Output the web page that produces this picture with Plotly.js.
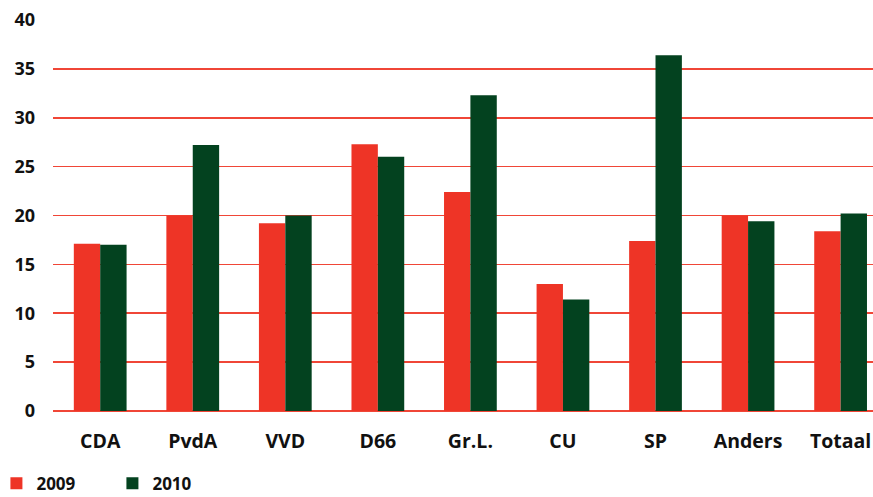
<!DOCTYPE html>
<html>
<head>
<meta charset="utf-8">
<script src="https://cdn.plot.ly/plotly-3.0.1.min.js"></script>
<style>html,body{margin:0;padding:0;background:#fff;}#chart{width:873px;height:497px;}</style>
</head>
<body>
<div id="chart"></div>
<script>
const categories = ["CDA", "PvdA", "VVD", "D66", "Gr.L.", "CU", "SP", "Anders", "Totaal"];
const values2009 = [17.1, 20.0, 19.2, 27.3, 22.4, 13.0, 17.4, 20.0, 18.4];
const values2010 = [17.0, 27.2, 20.0, 26.0, 32.3, 11.4, 36.4, 19.4, 20.2];
const seriesNames = ["2009", "2010"];
const yTicks = [0, 5, 10, 15, 20, 25, 30, 35, 40];

const red = "#ee3426";
const green = "#03421f";
const fontFam = "'Open Sans', 'DejaVu Sans', sans-serif";

const data = [
  {type: "bar", name: seriesNames[0], x: categories, y: values2009,
   marker: {color: red, line: {width: 0}}},
  {type: "bar", name: seriesNames[1], x: categories, y: values2010,
   marker: {color: green, line: {width: 0}}}
];

const layout = {
  width: 873, height: 497,
  margin: {l: 53, r: 0, t: 20, b: 86, autoexpand: false},
  paper_bgcolor: "#fff", plot_bgcolor: "#fff",
  barmode: "group", bargap: 0.43, bargroupgap: 0,
  font: {family: fontFam, color: "#111"},
  xaxis: {
    type: "category", range: [-0.51, 8.35],
    showgrid: false, zeroline: false, showline: false, ticks: "",
    tickfont: {family: fontFam, size: 19.5, color: "#111", weight: "bold"},
    ticklabelstandoff: 16
  },
  yaxis: {
    range: [0, 40], tickvals: yTicks, ticktext: yTicks.map(String),
    showgrid: true, gridcolor: "#f04637", gridwidth: 1.6,
    zeroline: true, zerolinecolor: "#f04637", zerolinewidth: 1.6,
    showline: false, ticks: "",
    tickfont: {family: fontFam, size: 18, color: "#111", weight: "bold"},
    ticklabelstandoff: 17
  },
  showlegend: true,
  legend: {
    orientation: "h", x: -0.069, xanchor: "left", y: -0.186, yanchor: "middle",
    font: {family: fontFam, size: 17, color: "#111", weight: "bold"},
    entrywidth: 71, entrywidthmode: "pixels",
    itemclick: false, itemdoubleclick: false
  }
};

Plotly.newPlot("chart", data, layout, {displayModeBar: false, staticPlot: true});
</script>
</body>
</html>
